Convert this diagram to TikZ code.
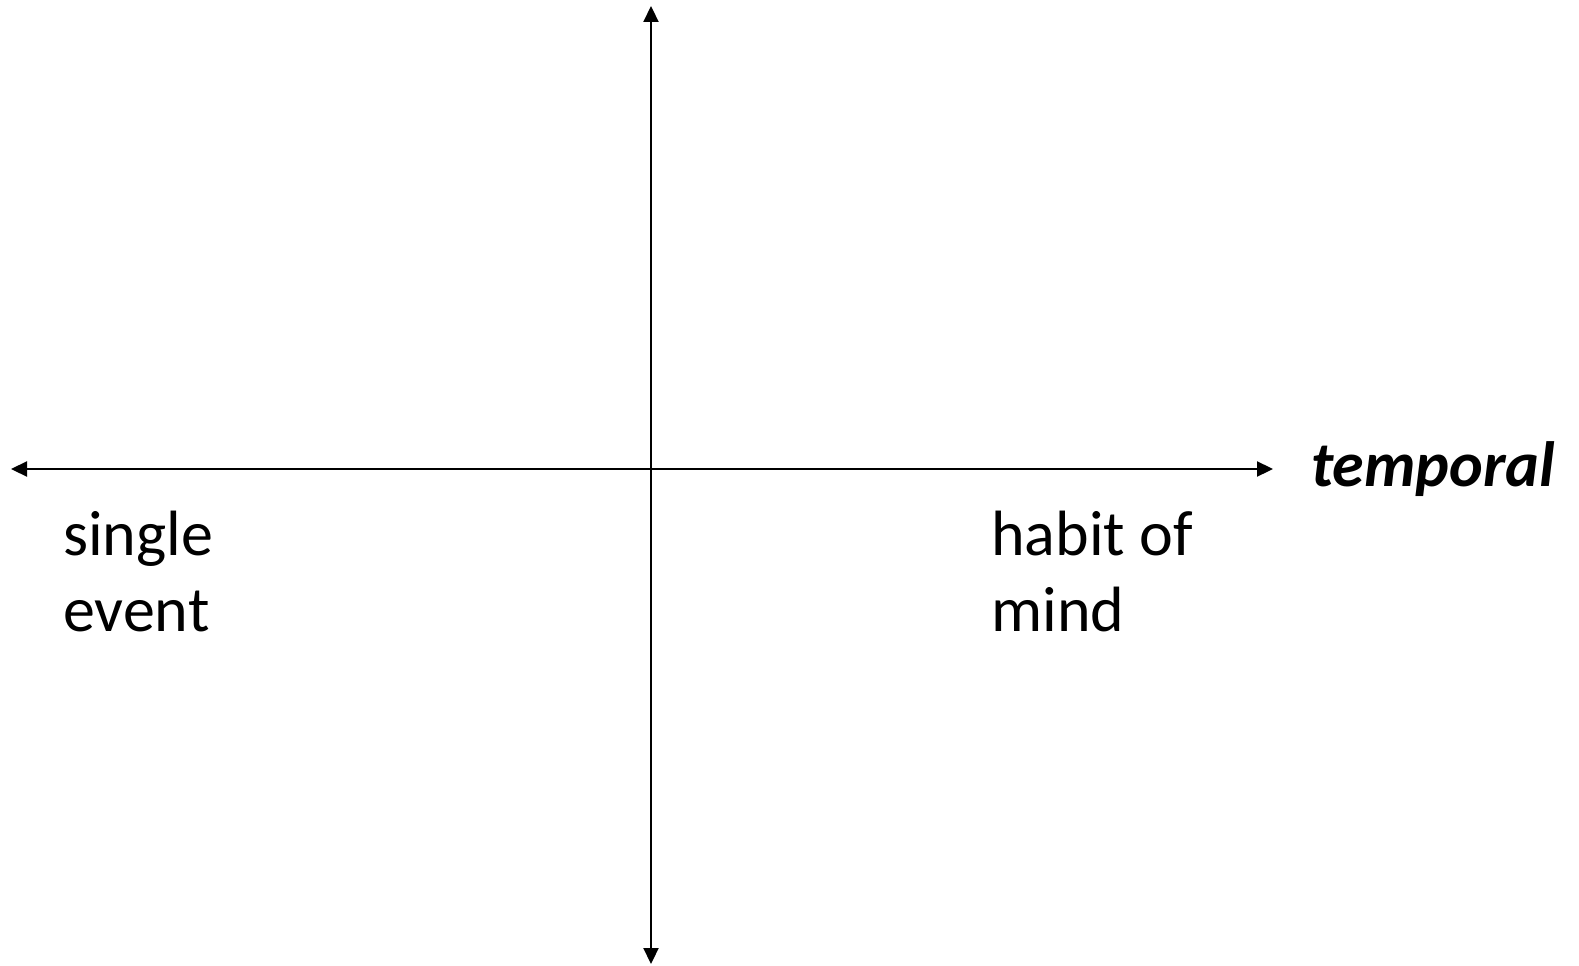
\documentclass[tikz,border=0pt]{standalone}
\usepackage{fontspec}
\setmainfont{Carlito}
\usetikzlibrary{arrows.meta}
\begin{document}
\begin{tikzpicture}[x=1pt,y=-1pt,
  axis/.style={line width=2.2pt,{Triangle[length=16pt,width=15pt]}-{Triangle[length=16pt,width=15pt]}},
  lbl/.style={inner sep=0pt,anchor=base west,align=left,font=\fontsize{64}{76}\selectfont}]
\useasboundingbox (0,0) rectangle (1579,966);
\coordinate (L) at (11,469);
\coordinate (R) at (1273,469);
\coordinate (T) at (651,6);
\coordinate (B) at (651,964);
\draw[axis] (L) -- (R);
\draw[axis] (T) -- (B);
\node[lbl] (single) at (63,631) {single\\event};
\node[lbl] (habit) at (991,631) {habit of\\mind};
\node[lbl,font=\fontsize{64}{76}\selectfont\bfseries\itshape] (temporal) at (1311,486) {temporal};
\end{tikzpicture}
\end{document}
